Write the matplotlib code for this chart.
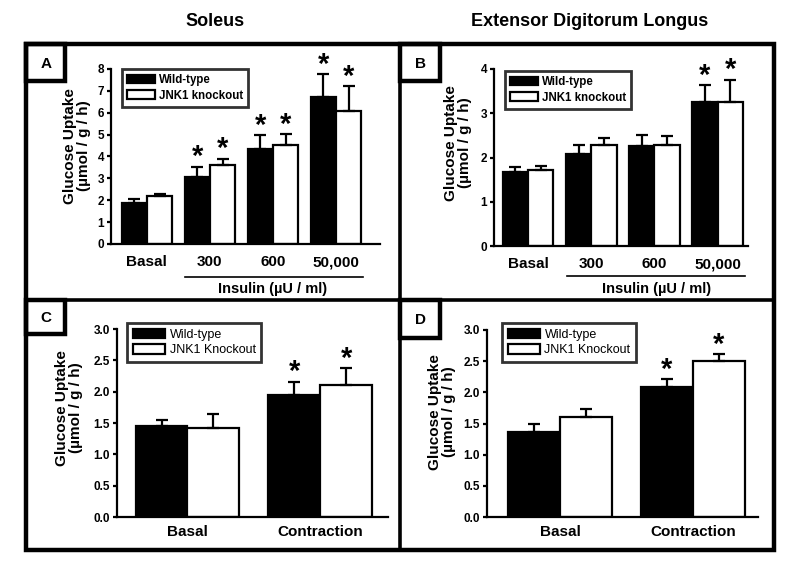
import matplotlib
matplotlib.use("Agg")
import matplotlib.pyplot as plt
from matplotlib import font_manager
from matplotlib.patches import Patch, Rectangle
from matplotlib.lines import Line2D
import numpy as np

plt.rcParams['font.family'] = ['Liberation Sans', 'DejaVu Sans']

# condensed font for the y-axis titles if available
try:
    font_manager.findfont(font_manager.FontProperties(family='Liberation Sans Narrow'),
                          fallback_to_default=False)
    YLAB_FAMILY, YLAB_SIZE = ['Liberation Sans Narrow', 'Liberation Sans'], 12.5
except Exception:
    YLAB_FAMILY, YLAB_SIZE = ['Liberation Sans', 'DejaVu Sans'], 11

# ---------------- data ----------------
insulin_groups = ["Basal", "300", "600", "50,000"]
contraction_groups = ["Basal", "Contraction"]

soleus_ins_wt = [1.86, 3.08, 4.34, 6.70]
soleus_ins_wt_err = [0.19, 0.46, 0.65, 1.05]
soleus_ins_ko = [2.20, 3.60, 4.53, 6.10]
soleus_ins_ko_err = [0.07, 0.30, 0.50, 1.13]
soleus_ins_wt_sig = [False, True, True, True]
soleus_ins_ko_sig = [False, True, True, True]

edl_ins_wt = [1.67, 2.08, 2.25, 3.25]
edl_ins_wt_err = [0.12, 0.20, 0.26, 0.38]
edl_ins_ko = [1.72, 2.28, 2.28, 3.25]
edl_ins_ko_err = [0.08, 0.17, 0.20, 0.51]
edl_ins_wt_sig = [False, False, False, True]
edl_ins_ko_sig = [False, False, False, True]

soleus_con_wt = [1.45, 1.94]
soleus_con_wt_err = [0.10, 0.22]
soleus_con_ko = [1.42, 2.10]
soleus_con_ko_err = [0.22, 0.28]
soleus_con_wt_sig = [False, True]
soleus_con_ko_sig = [False, True]

edl_con_wt = [1.36, 2.08]
edl_con_wt_err = [0.14, 0.13]
edl_con_ko = [1.60, 2.50]
edl_con_ko_err = [0.14, 0.11]
edl_con_wt_sig = [False, True]
edl_con_ko_sig = [False, True]

ins_ticks_A = [0, 1, 2, 3, 4, 5, 6, 7, 8]
ins_ticks_B = [0, 1, 2, 3, 4]
con_ticks = [0.0, 0.5, 1.0, 1.5, 2.0, 2.5, 3.0]

# ---------------- figure ----------------
W, H = 800, 578
fig = plt.figure(figsize=(W / 100, H / 100), dpi=100)
fig.patch.set_facecolor('white')


def fx(px):
    return px / W


def fy(py):
    return 1 - py / H


def add_ax(l, r, b, t):
    return fig.add_axes([fx(l), fy(b), fx(r) - fx(l), fy(t) - fy(b)])


def draw_panel(ax, cats, wt, wte, ko, koe, wsig, ksig, xlim, ylim, yticks,
               fmt, width, leg_labels, leg_bold, leg_size, leg_hl, leg_box,
               ylab_pos, xt_pad):
    x = np.arange(len(cats))
    ax.bar(x - width / 2, wt, width, color='black', edgecolor='black',
           linewidth=1.6, zorder=2)
    ax.bar(x + width / 2, ko, width, color='white', edgecolor='black',
           linewidth=1.6, zorder=2)
    ax.errorbar(x - width / 2, wt, yerr=[np.zeros(len(wt)), wte], fmt='none',
                ecolor='black', elinewidth=1.6, capsize=4, capthick=1.6, zorder=3)
    ax.errorbar(x + width / 2, ko, yerr=[np.zeros(len(ko)), koe], fmt='none',
                ecolor='black', elinewidth=1.6, capsize=4, capthick=1.6, zorder=3)
    for i in range(len(cats)):
        if wsig[i]:
            ax.annotate('*', (x[i] - width / 2, wt[i] + wte[i]), xytext=(0, 1),
                        textcoords='offset points', ha='center', va='baseline',
                        fontsize=21, fontweight='bold')
        if ksig[i]:
            ax.annotate('*', (x[i] + width / 2, ko[i] + koe[i]), xytext=(0, 1),
                        textcoords='offset points', ha='center', va='baseline',
                        fontsize=21, fontweight='bold')
    ax.set_xlim(*xlim)
    ax.set_ylim(*ylim)
    ax.set_yticks(yticks)
    ax.set_yticklabels([fmt.format(v) for v in yticks], fontsize=8.5,
                       fontweight='bold')
    ax.set_xticks(x)
    ax.set_xticklabels(cats, fontsize=11, fontweight='bold')
    ax.tick_params(axis='x', length=0, pad=xt_pad)
    ax.tick_params(axis='y', length=3, width=1.6, pad=2, direction='out')
    for s in ['top', 'right']:
        ax.spines[s].set_visible(False)
    for s in ['left', 'bottom']:
        ax.spines[s].set_linewidth(1.6)
    fig.text(fx(ylab_pos[0]), fy(ylab_pos[1]), 'Glucose Uptake\n(µmol / g / h)',
             rotation=90, ha='center', va='center', fontsize=YLAB_SIZE,
             family=YLAB_FAMILY, fontweight='bold', linespacing=1.0)
    handles = [Patch(facecolor='black', edgecolor='black', linewidth=1.6),
               Patch(facecolor='white', edgecolor='black', linewidth=1.6)]
    l, t = leg_box
    leg = ax.legend(handles, leg_labels, loc='upper left',
                    bbox_to_anchor=(fx(l), fy(t)), bbox_transform=fig.transFigure,
                    frameon=True, fancybox=False, borderpad=0.45,
                    handlelength=leg_hl, handleheight=0.75, handletextpad=0.35,
                    labelspacing=0.3, borderaxespad=0,
                    prop={'size': leg_size,
                          'weight': 'bold' if leg_bold else 'normal'})
    leg.get_frame().set_edgecolor('black')
    leg.get_frame().set_linewidth(2)
    return ax


axA = add_ax(111, 380, 244, 69)
draw_panel(axA, insulin_groups, soleus_ins_wt, soleus_ins_wt_err, soleus_ins_ko,
           soleus_ins_ko_err, soleus_ins_wt_sig, soleus_ins_ko_sig,
           (-0.57, 3.70), (0, 8), ins_ticks_A, '{:d}', 0.4,
           ['Wild-type', 'JNK1 knockout'], True, 8.3, 2.4, (122, 69), (77, 146), 8)

axB = add_ax(494, 748, 246, 69)
draw_panel(axB, insulin_groups, edl_ins_wt, edl_ins_wt_err, edl_ins_ko,
           edl_ins_ko_err, edl_ins_wt_sig, edl_ins_ko_sig,
           (-0.54, 3.48), (0, 4), ins_ticks_B, '{:d}', 0.4,
           ['Wild-type', 'JNK1 knockout'], True, 8.3, 2.4, (505, 71), (458, 143), 8)

axC = add_ax(117, 388, 517, 329)
draw_panel(axC, contraction_groups, soleus_con_wt, soleus_con_wt_err,
           soleus_con_ko, soleus_con_ko_err, soleus_con_wt_sig, soleus_con_ko_sig,
           (-0.53, 1.51), (0, 3), con_ticks, '{:.1f}', 0.39,
           ['Wild-type', 'JNK1 Knockout'], False, 9, 2.6, (127, 323), (69, 408), 6)

axD = add_ax(487, 758, 517, 330)
draw_panel(axD, contraction_groups, edl_con_wt, edl_con_wt_err,
           edl_con_ko, edl_con_ko_err, edl_con_wt_sig, edl_con_ko_sig,
           (-0.55, 1.49), (0, 3), con_ticks, '{:.1f}', 0.39,
           ['Wild-type', 'JNK1 Knockout'], False, 9, 2.6, (502, 323), (442, 412), 6)

# insulin brackets
for (x0, x1, yl, xc) in [(185, 363, 277, 273), (567, 745, 276, 657)]:
    fig.add_artist(Line2D([fx(x0), fx(x1)], [fy(yl), fy(yl)], color='black',
                          linewidth=1.2))
    fig.text(fx(xc), fy(289), 'Insulin (µU / ml)', ha='center', va='center',
             fontsize=10.5, fontweight='bold')

# column titles
fig.text(fx(215), fy(22), 'Soleus', ha='center', va='center', fontsize=13,
         fontweight='bold')
fig.text(fx(590), fy(22), 'Extensor Digitorum Longus', ha='center',
         va='center', fontsize=13, fontweight='bold')

# outer frame and dividers
lw = 3.2
L, R, T, B = 25.5, 774, 44, 550
fig.add_artist(Rectangle((fx(L), fy(B)), fx(R) - fx(L), fy(T) - fy(B),
                         fill=False, edgecolor='black', linewidth=lw))
fig.add_artist(Line2D([fx(400), fx(400)], [fy(T), fy(B)], color='black',
                      linewidth=2.6))
fig.add_artist(Line2D([fx(L), fx(R)], [fy(300), fy(300)], color='black',
                      linewidth=2.6))

# panel letter boxes
for (l, t, r, b, letter) in [(L, T, 65, 81, 'A'), (400, T, 440, 81, 'B'),
                             (L, 300, 65, 334, 'C'), (400, 300, 440, 338, 'D')]:
    fig.add_artist(Rectangle((fx(l), fy(b)), fx(r) - fx(l), fy(t) - fy(b),
                             fill=False, edgecolor='black', linewidth=lw))
    fig.text(fx((l + r) / 2 + 1), fy((t + b) / 2 + 1), letter, ha='center',
             va='center', fontsize=11, fontweight='bold')

fig.savefig('out.png', dpi=100, facecolor='white')
